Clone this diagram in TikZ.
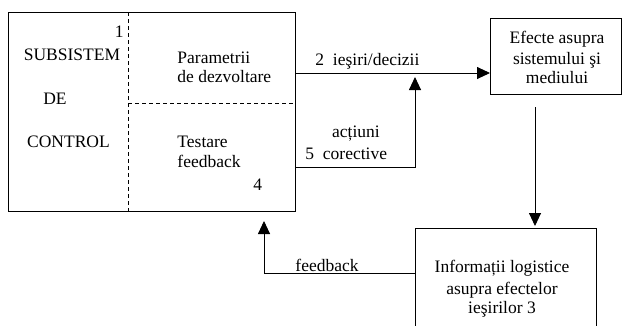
\documentclass[tikz,border=0pt]{standalone}
\usepackage{fontspec}
\setmainfont{Liberation Serif}
\usetikzlibrary{arrows.meta}
\begin{document}
\begin{tikzpicture}[x=1pt,y=-1pt,line width=0.9pt,
  box/.style={draw,rectangle,inner sep=0pt},
  txt/.style={font=\fontsize{17.5}{21}\selectfont,inner sep=0pt},
  arr/.style={-{Triangle[length=13pt,width=12pt]}},
  dsh/.style={dash pattern=on 4pt off 3pt}]
\useasboundingbox (0,0) rectangle (623,325);
% boxes
\node[box,minimum width=287pt,minimum height=199pt,anchor=north west] (main) at (8,12) {};
\node[box,minimum width=131pt,minimum height=76pt,anchor=north west] (eff) at (490,18) {};
\node[box,minimum width=181pt,minimum height=110pt,anchor=north west] (info) at (415,228) {};
% dashed dividers
\coordinate (dv1) at (128,12);
\coordinate (dv2) at (128,211);
\coordinate (dh) at (128,103);
\draw[dsh] (dv1) -- (dv2);
\draw[dsh] (dh) -- (dh -| main.east);
% texts in main box
\node[txt,anchor=base east] (n1) at (124,37) {1};
\node[txt,anchor=base] (sub) at (72,60) {SUBSISTEM};
\node[txt,anchor=base] (de) at (55,104) {DE};
\node[txt,anchor=base] (ctl) at (68.5,147) {CONTROL};
\node[txt,anchor=base west] (par1) at (177,63) {Parametrii};
\node[txt,anchor=base west] (par2) at (177,82) {de dezvoltare};
\node[txt,anchor=base west] (tst1) at (177,147) {Testare};
\node[txt,anchor=base west] (tst2) at (177,167) {feedback};
\node[txt,anchor=base west] (n4) at (253,190) {4};
% effects box text
\node[txt,anchor=base] (e1) at (557,43) {Efecte asupra};
\node[txt,anchor=base] (e2) at (557,64) {sistemului şi};
\node[txt,anchor=base] (e3) at (557,83) {mediului};
% info box text
\node[txt,anchor=base] (i1) at (502,272) {Informații logistice};
\node[txt,anchor=base] (i2) at (502,294) {asupra efectelor};
\node[txt,anchor=base] (i3) at (502,313) {ieşirilor 3};
% connectors
\coordinate (p2) at (295,73);
\draw[arr] (p2) -- (p2 -| eff.west);
\node[txt,anchor=base west] (l2) at (315,65) {2\ \ ieşiri/decizii};
\coordinate (p5) at (295,167);
\coordinate (k5) at (415,167);
\coordinate (t5) at (415,77);
\draw[arr] (p5) -- (k5) -- (t5);
\node[txt,anchor=base] (l5a) at (356,137) {acțiuni};
\node[txt,anchor=base west] (l5b) at (305,159) {5\ \ corective};
\coordinate (d1) at (535,107);
\draw[arr,shorten >=2pt] (d1) -- (d1 |- info.north);
\coordinate (f1) at (264,273);
\coordinate (f2) at (264,221);
\draw[arr] (f1 -| info.west) -- (f1) -- (f2);
\node[txt,anchor=base west] (lf) at (295,271) {feedback};
\end{tikzpicture}
\end{document}
